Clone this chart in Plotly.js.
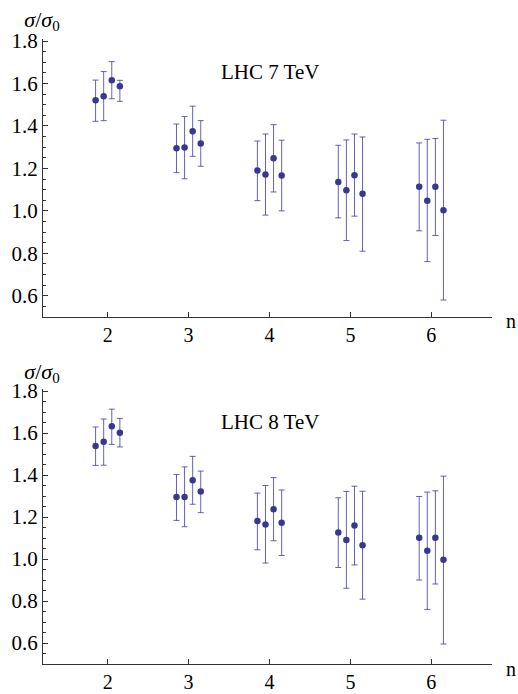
<!DOCTYPE html>
<html>
<head>
<meta charset="utf-8">
<script src="https://cdn.plot.ly/plotly-3.0.1.min.js"></script>
<style>
html,body{margin:0;padding:0;background:#fff;}
#wrap{position:relative;width:518px;height:694px;}
#chart{width:518px;height:694px;}
.ylab{position:absolute;transform:translate(-50%,-50%);font-family:'Liberation Serif';font-size:22px;color:#000;white-space:nowrap;line-height:1;}
.ylab sub{font-size:15px;vertical-align:-4px;line-height:0;}
</style>
</head>
<body>
<div id="wrap">
<div id="chart"></div>
<div class="ylab" style="left:42px;top:20px;"><i>σ</i>/<i>σ</i><sub>0</sub></div>
<div class="ylab" style="left:42px;top:372px;"><i>σ</i>/<i>σ</i><sub>0</sub></div>
</div>
<script>
// multiplicity n and horizontal offsets of the four estimates within each group
const nValues = [2, 3, 4, 5, 6];
const offsets = [-0.15, -0.05, 0.05, 0.15];

// LHC 7 TeV: central values, upper and lower ends of the error bars
const c7_1 = [1.521, 1.295, 1.190, 1.136, 1.113];
const u7_1 = [1.616, 1.409, 1.329, 1.309, 1.320];
const l7_1 = [1.422, 1.180, 1.048, 0.967, 0.906];
const c7_2 = [1.540, 1.298, 1.171, 1.097, 1.048];
const u7_2 = [1.656, 1.444, 1.362, 1.334, 1.337];
const l7_2 = [1.425, 1.151, 0.980, 0.860, 0.761];
const c7_3 = [1.615, 1.375, 1.248, 1.168, 1.113];
const u7_3 = [1.703, 1.493, 1.406, 1.362, 1.341];
const l7_3 = [1.528, 1.257, 1.089, 0.975, 0.884];
const c7_4 = [1.587, 1.317, 1.166, 1.080, 1.003];
const u7_4 = [1.615, 1.425, 1.333, 1.348, 1.427];
const l7_4 = [1.516, 1.210, 1.000, 0.810, 0.580];

// LHC 8 TeV
const c8_1 = [1.538, 1.295, 1.181, 1.126, 1.101];
const u8_1 = [1.629, 1.403, 1.314, 1.292, 1.298];
const l8_1 = [1.446, 1.184, 1.044, 0.960, 0.900];
const c8_2 = [1.559, 1.295, 1.165, 1.091, 1.040];
const u8_2 = [1.667, 1.439, 1.350, 1.322, 1.319];
const l8_2 = [1.447, 1.154, 0.981, 0.861, 0.760];
const c8_3 = [1.632, 1.375, 1.237, 1.160, 1.102];
const u8_3 = [1.714, 1.489, 1.388, 1.347, 1.325];
const l8_3 = [1.546, 1.261, 1.087, 0.972, 0.881];
const c8_4 = [1.602, 1.322, 1.173, 1.066, 0.997];
const u8_4 = [1.670, 1.419, 1.329, 1.323, 1.395];
const l8_4 = [1.534, 1.221, 1.017, 0.809, 0.595];

const yTickVals = [0.6, 0.8, 1.0, 1.2, 1.4, 1.6, 1.8];
const yTickText = ["0.6", "0.8", "1.0", "1.2", "1.4", "1.6", "1.8"];
const xTickVals = [2, 3, 4, 5, 6];
const panelLabels = ["LHC 7 TeV", "LHC 8 TeV"];

const dotColor = "#38388f";
const barColor = "rgba(60,60,160,0.8)";

function makeTrace(centers, ups, los, k, xa, ya) {
  return {
    type: "scatter", mode: "markers",
    x: nValues.map(v => v + offsets[k]),
    y: centers,
    xaxis: xa, yaxis: ya,
    marker: {color: dotColor, size: 6.5},
    error_y: {
      type: "data", symmetric: false,
      array: ups.map((u, i) => u - centers[i]),
      arrayminus: los.map((l, i) => centers[i] - l),
      color: barColor, thickness: 1, width: 3
    },
    showlegend: false, hoverinfo: "skip"
  };
}

const sets7 = [[c7_1,u7_1,l7_1],[c7_2,u7_2,l7_2],[c7_3,u7_3,l7_3],[c7_4,u7_4,l7_4]];
const sets8 = [[c8_1,u8_1,l8_1],[c8_2,u8_2,l8_2],[c8_3,u8_3,l8_3],[c8_4,u8_4,l8_4]];
const traces = [];
sets7.forEach((s, k) => traces.push(makeTrace(s[0], s[1], s[2], k, "x", "y")));
sets8.forEach((s, k) => traces.push(makeTrace(s[0], s[1], s[2], k, "x2", "y2")));

const FAM = "Liberation Serif";
function f(size) { return {family: FAM, size: size, color: "#000000"}; }
const axColor = "#333333";

function xAxis(anchor) {
  return {
    anchor: anchor, domain: [0, 1], range: [1.2, 6.75],
    showline: true, linecolor: axColor, linewidth: 1,
    showgrid: false, zeroline: false,
    ticks: "inside", ticklen: 5, tickcolor: axColor,
    tickvals: xTickVals, ticktext: xTickVals.map(String),
    tickfont: f(20)
  };
}
function yAxis(anchor, domain) {
  return {
    anchor: anchor, domain: domain, range: [0.5, 1.81],
    showline: true, linecolor: axColor, linewidth: 1,
    showgrid: false, zeroline: false,
    ticks: "inside", ticklen: 5, tickcolor: axColor,
    tickvals: yTickVals, ticktext: yTickText,
    tickfont: f(21),
    minor: {dtick: 0.05, tick0: 0.5, ticks: "inside", ticklen: 3, tickcolor: axColor, showgrid: false}
  };
}

const H = 694, W = 518;
const ann = [];
["", "2"].forEach((s, i) => {
  ann.push({xref: "x" + s, yref: "y" + s, x: 4, y: 1.655, text: panelLabels[i],
    showarrow: false, font: f(21), xanchor: "center", yanchor: "middle"});
});
// x-axis end label "n" for each panel
[321, 669].forEach(py => {
  ann.push({xref: "paper", yref: "paper", x: (511 - 43) / 449, y: 1 - py / (H - 30), text: "n",
    showarrow: false, font: f(20), xanchor: "center", yanchor: "middle"});
});

function dom(topPx, botPx) { return [1 - botPx / 664, 1 - topPx / 664]; }

const layout = {
  width: W, height: H,
  margin: {l: 43, r: 26, t: 0, b: 30},
  paper_bgcolor: "rgba(0,0,0,0)", plot_bgcolor: "rgba(0,0,0,0)",
  xaxis: xAxis("y"),
  yaxis: yAxis("x", dom(38.9, 317)),
  xaxis2: xAxis("y2"),
  yaxis2: yAxis("x2", dom(389.0, 666.5)),
  annotations: ann
};

Plotly.newPlot("chart", traces, layout, {displayModeBar: false});
</script>
</body>
</html>
